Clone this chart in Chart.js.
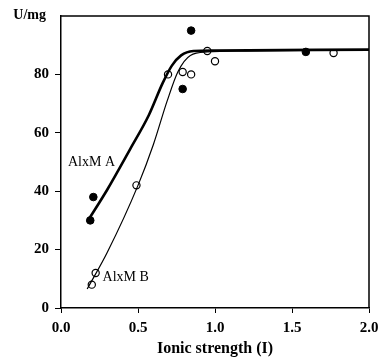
<!DOCTYPE html>
<html>
<head>
<meta charset="utf-8">
<script src="https://cdn.jsdelivr.net/npm/chart.js@4.4.1/dist/chart.umd.min.js"></script>
<style>
  body { margin: 0; background: #fff; }
</style>
</head>
<body>
<canvas id="canvas1" width="379" height="358"></canvas>
<script>
// measured points, AlxM A (filled) and AlxM B (open)
const pointsAx = [0.19, 0.21, 0.79, 0.845, 1.59];
const pointsAy = [30, 38, 75, 95, 87.7];
const pointsBx = [0.2, 0.225, 0.49, 0.695, 0.79, 0.845, 0.95, 1.0, 1.77];
const pointsBy = [8, 12, 42, 80, 80.8, 80, 88, 84.5, 87.3];

// fitted curves
const curveAx = [0.17, 0.3, 0.45, 0.57, 0.66, 0.72, 0.78, 0.86, 1.0, 2.0];
const curveAy = [29.5, 40.5, 54.5, 66, 77, 83, 86.5, 88, 88.2, 88.5];
const curveBx = [0.17, 0.3, 0.5, 0.6, 0.69, 0.76, 0.84, 0.95, 1.2, 2.0];
const curveBy = [6.5, 19, 42, 56, 71, 81, 86.5, 87.7, 88, 88.4];

const xTicks = [0, 0.5, 1.0, 1.5, 2.0];
const yTicks = [0, 20, 40, 60, 80];

const FONT = "'Liberation Serif', 'DejaVu Serif', serif";

function toXY(xs, ys) {
    return xs.map((x, i) => ({ x: x, y: ys[i] }));
}

const boxAndLabels = {
    id: 'boxAndLabels',
    afterDraw(chart) {
        const ctx = chart.ctx;
        const a = chart.chartArea;
        const xs = chart.scales.x, ys = chart.scales.y;
        ctx.save();
        ctx.strokeStyle = '#000';
        ctx.lineWidth = 1.5;
        ctx.beginPath();
        ctx.moveTo(a.left, a.top);
        ctx.lineTo(a.right, a.top);
        ctx.lineTo(a.right, a.bottom);
        ctx.stroke();
        ctx.fillStyle = '#000';
        ctx.font = "bold 14px " + FONT;
        ctx.textAlign = 'right';
        ctx.textBaseline = 'middle';
        ctx.fillText('U/mg', a.left - 15, a.top - 1);
        ctx.font = "14px " + FONT;
        ctx.textAlign = 'left';
        ctx.fillText('AlxM A', xs.getPixelForValue(0.045), ys.getPixelForValue(50));
        ctx.fillText('AlxM B', xs.getPixelForValue(0.27), ys.getPixelForValue(10.6));
        ctx.restore();
    }
};

function MakeChart() {
    const data = {
        datasets: [
            {
                label: 'AlxM A curve',
                data: toXY(curveAx, curveAy),
                showLine: true,
                borderColor: '#000',
                borderWidth: 2.6,
                pointRadius: 0,
                cubicInterpolationMode: 'monotone',
                fill: false
            },
            {
                label: 'AlxM B curve',
                data: toXY(curveBx, curveBy),
                showLine: true,
                borderColor: '#000',
                borderWidth: 1.2,
                pointRadius: 0,
                cubicInterpolationMode: 'monotone',
                fill: false
            },
            {
                label: 'AlxM A',
                data: toXY(pointsAx, pointsAy),
                showLine: false,
                pointRadius: 3.8,
                pointBackgroundColor: '#000',
                pointBorderColor: '#000',
                pointBorderWidth: 1
            },
            {
                label: 'AlxM B',
                data: toXY(pointsBx, pointsBy),
                showLine: false,
                pointRadius: 3.6,
                pointBackgroundColor: '#fff',
                pointBorderColor: '#000',
                pointBorderWidth: 1.2
            }
        ]
    };
    const config = {
        type: 'scatter',
        data: data,
        options: {
            responsive: false,
            animation: false,
            layout: { padding: { left: 0, right: 10, top: 16, bottom: 0 } },
            plugins: {
                legend: { display: false },
                tooltip: { enabled: false }
            },
            scales: {
                x: {
                    type: 'linear',
                    min: 0,
                    max: 2,
                    afterBuildTicks: s => { s.ticks = xTicks.map(v => ({ value: v })); },
                    afterFit: s => { s.height = 50; s.paddingRight = 0; s.paddingLeft = 0; },
                    grid: { drawOnChartArea: false, tickLength: 5, color: '#000' },
                    border: { color: '#000', width: 1.5 },
                    ticks: {
                        color: '#000',
                        padding: 6,
                        font: { family: FONT, size: 15, weight: 'bold' },
                        callback: v => Number(v).toFixed(1)
                    },
                    title: {
                        display: true,
                        text: 'Ionic strength (I)',
                        color: '#000',
                        padding: { top: 4, bottom: 0 },
                        font: { family: FONT, size: 16, weight: 'bold' }
                    }
                },
                y: {
                    type: 'linear',
                    min: 0,
                    max: 100,
                    afterBuildTicks: s => { s.ticks = yTicks.map(v => ({ value: v })); },
                    afterFit: s => { s.width = 61; },
                    grid: { drawOnChartArea: false, tickLength: 6, color: '#000' },
                    border: { color: '#000', width: 1.5 },
                    ticks: {
                        color: '#000',
                        padding: 6,
                        font: { family: FONT, size: 15, weight: 'bold' }
                    }
                }
            }
        },
        plugins: [boxAndLabels]
    };
    const chart = new Chart(document.getElementById('canvas1'), config);
}
MakeChart();
</script>
</body>
</html>
